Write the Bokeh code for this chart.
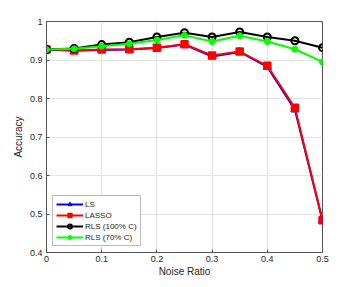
from bokeh.plotting import figure
from bokeh.models import Legend, Range1d, FixedTicker
from bokeh.embed import file_html
from bokeh.resources import INLINE

noise = [0, 0.05, 0.1, 0.15, 0.2, 0.25, 0.3, 0.35, 0.4, 0.45, 0.5]
ls_acc = [0.927, 0.924, 0.926, 0.927, 0.931, 0.940, 0.909, 0.921, 0.882, 0.771, 0.483]
lasso_acc = [0.927, 0.925, 0.927, 0.928, 0.932, 0.941, 0.912, 0.922, 0.885, 0.776, 0.484]
rls100_acc = [0.927, 0.930, 0.940, 0.946, 0.960, 0.971, 0.960, 0.973, 0.960, 0.950, 0.932]
rls70_acc = [0.927, 0.929, 0.936, 0.942, 0.952, 0.964, 0.948, 0.963, 0.948, 0.928, 0.895]

x_ticks = [0, 0.1, 0.2, 0.3, 0.4, 0.5]
y_ticks = [0.4, 0.5, 0.6, 0.7, 0.8, 0.9, 1.0]

FONT = "Liberation Sans"
TXT = "#262626"
AX = "#555555"

p = figure(width=341, height=279,
           min_border_left=46, min_border_right=19, min_border_top=21, min_border_bottom=22,
           x_range=Range1d(0, 0.5), y_range=Range1d(0.4, 1.0),
           output_backend="svg", toolbar_location=None)
p.outline_line_color = AX
p.outline_line_width = 1
p.background_fill_color = "white"

for ax in [p.xaxis[0], p.yaxis[0]]:
    ax.major_tick_in = 3
    ax.major_tick_out = 0
    ax.minor_tick_line_color = None
    ax.axis_line_color = AX
    ax.major_tick_line_color = AX
    ax.major_label_text_font = FONT
    ax.major_label_text_font_size = "9px"
    ax.major_label_text_color = TXT
    ax.axis_label_text_font = FONT
    ax.axis_label_text_font_size = "10px"
    ax.axis_label_text_font_style = "normal"
    ax.axis_label_text_color = TXT

p.xaxis[0].ticker = FixedTicker(ticks=x_ticks)
p.yaxis[0].ticker = FixedTicker(ticks=y_ticks)
p.xaxis[0].major_label_overrides = {0: "0", 0.1: "0.1", 0.2: "0.2", 0.3: "0.3", 0.4: "0.4", 0.5: "0.5"}
p.yaxis[0].major_label_overrides = {1: "1", 0.4: "0.4", 0.5: "0.5", 0.6: "0.6", 0.7: "0.7", 0.8: "0.8", 0.9: "0.9"}
p.xaxis[0].axis_label = "Noise Ratio"
p.yaxis[0].axis_label = "Accuracy"
p.xaxis[0].major_label_standoff = 3
p.xaxis[0].axis_label_standoff = 1
p.yaxis[0].major_label_standoff = 4
p.yaxis[0].axis_label_standoff = 3

p.xgrid.ticker = FixedTicker(ticks=x_ticks)
p.ygrid.ticker = FixedTicker(ticks=y_ticks)
p.grid.grid_line_color = "#e3e3e3"
p.grid.grid_line_width = 1

r1 = p.line(noise, ls_acc, line_color="#0000ff", line_width=2)
m1 = p.scatter(noise, ls_acc, marker="triangle", size=8, fill_color="#0000ff", line_color="#0000ff")
r2 = p.line(noise, lasso_acc, line_color="#ff0000", line_width=2)
m2 = p.scatter(noise, lasso_acc, marker="square", size=7, fill_color="#ff0000", line_color="#ff0000", line_width=1.5)
r3 = p.line(noise, rls100_acc, line_color="#000000", line_width=2)
m3 = p.scatter(noise, rls100_acc, marker="circle", size=7, fill_color=None, line_color="#000000", line_width=2)
r4 = p.line(noise, rls70_acc, line_color="#00ff00", line_width=2)
m4 = p.scatter(noise, rls70_acc, marker="circle", size=6, fill_color="#00ff00", line_color="#00ff00")

legend = Legend(items=[("LS", [r1, m1]), ("LASSO", [r2, m2]),
                       ("RLS (100% C)", [r3, m3]), ("RLS (70% C)", [r4, m4])],
                location=(6, 6))
legend.label_text_font = FONT
legend.label_text_font_size = "8px"
legend.label_text_color = TXT
legend.glyph_width = 27
legend.glyph_height = 10
legend.label_height = 10
legend.label_standoff = 2
legend.spacing = 1
legend.padding = 3
legend.margin = 0
legend.border_line_color = "#777777"
legend.border_line_width = 1
legend.background_fill_alpha = 1
p.add_layout(legend, "center")

open("out.html", "w").write(file_html(p, INLINE))
